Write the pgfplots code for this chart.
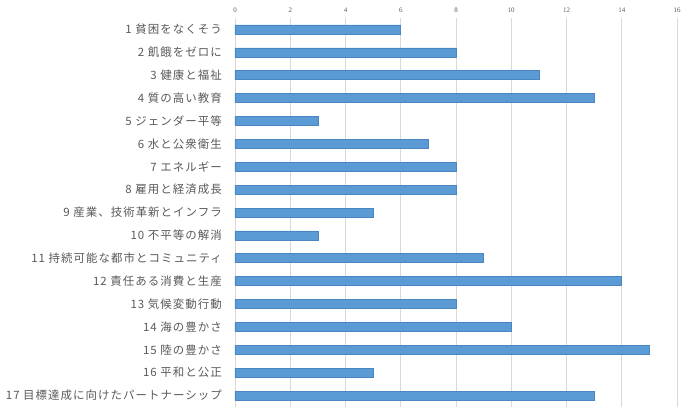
\documentclass[border=0pt]{standalone}
\usepackage{pgfplots}
\pgfplotsset{compat=1.18}
\usepackage{fontspec}
\setmainfont{Liberation Serif}
\newfontfamily\cjk[LetterSpace=9]{Noto Sans CJK JP}
\usetikzlibrary{calc}
\definecolor{barfill}{HTML}{5B9BD5}
\definecolor{barline}{HTML}{4A86C2}
\definecolor{gridgray}{HTML}{D9D9D9}
\definecolor{txtgray}{HTML}{595959}

\begin{document}
\begin{tikzpicture}
\begin{axis}[
    scale only axis,
    width=442bp,
    height=389bp,
    xbar,
    bar width=9bp,
    y dir=reverse,
    xmin=0, xmax=16,
    ymin=0.5, ymax=17.5,
    xtick={0,2,...,16},
    xticklabel pos=top,
    ytick={1,...,17},
    yticklabels={
        1 貧困をなくそう,
        2 飢餓をゼロに,
        3 健康と福祉,
        4 質の高い教育,
        5 ジェンダー平等,
        6 水と公衆衛生,
        7 エネルギー,
        8 雇用と経済成長,
        9 産業、技術革新とインフラ,
        10 不平等の解消,
        11 持続可能な都市とコミュニティ,
        12 責任ある消費と生産,
        13 気候変動行動,
        14 海の豊かさ,
        15 陸の豊かさ,
        16 平和と公正,
        17 目標達成に向けたパートナーシップ},
    xmajorgrids,
    grid style={gridgray, line width=0.8pt},
    axis line style={draw=none},
    major tick length=0pt,
    xticklabel style={font=\fontsize{7}{8}\selectfont, text=txtgray, yshift=2bp},
    yticklabel style={font=\cjk\fontsize{11.5}{13}\selectfont, text=txtgray, inner sep=0pt, xshift=-13bp},
    /pgf/number format/assume math mode=true,
]
\addplot[fill=barfill, draw=barline, line width=0.6pt] coordinates {
    (6,1) (8,2) (11,3) (13,4) (3,5) (7,6) (8,7) (8,8) (5,9)
    (3,10) (9,11) (14,12) (8,13) (10,14) (15,15) (5,16) (13,17)
};
\end{axis}
\pgfresetboundingbox
\path ($(current axis.south west)+(-235bp,-7bp)$) rectangle ($(current axis.north east)+(13bp,18bp)$);
\end{tikzpicture}
\end{document}
